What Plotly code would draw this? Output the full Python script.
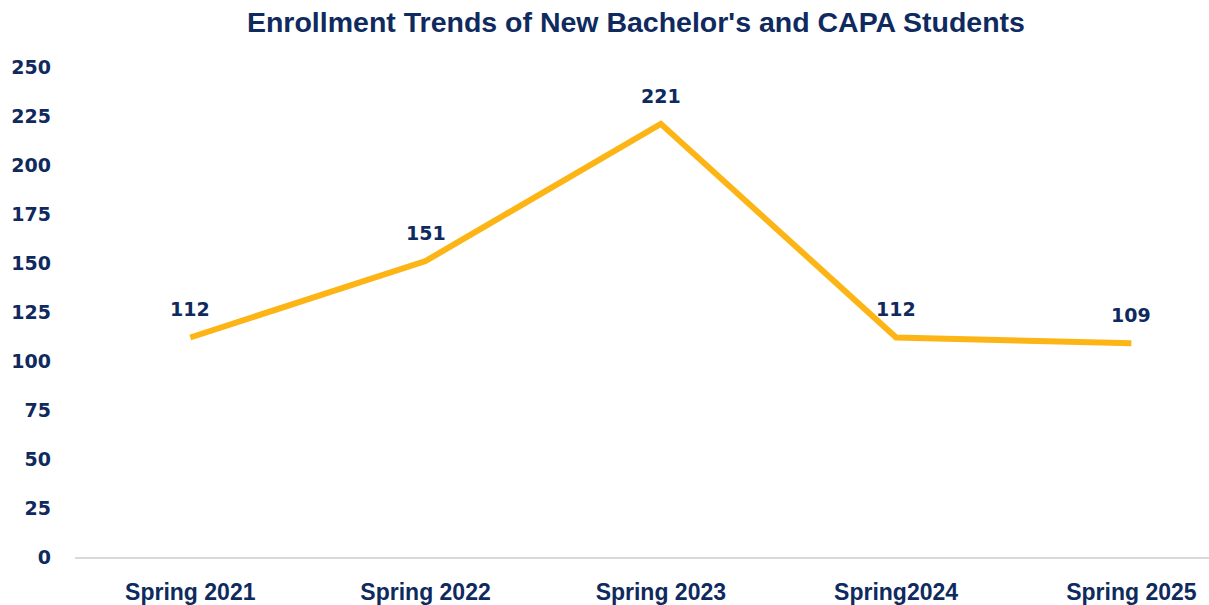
import plotly.graph_objects as go

categories = ["Spring 2021", "Spring 2022", "Spring 2023", "Spring2024", "Spring 2025"]
values = [112, 151, 221, 112, 109]
y_ticks = [0, 25, 50, 75, 100, 125, 150, 175, 200, 225, 250]

navy = "#0F2A5E"
gold = "#FDB515"

fig = go.Figure()
fig.add_trace(go.Scatter(
    x=categories, y=values, mode="lines",
    line=dict(color=gold, width=6),
    hoverinfo="skip", showlegend=False,
))
for c, v in zip(categories, values):
    fig.add_annotation(x=c, y=v, text=str(v), showarrow=False, yshift=28,
                       font=dict(family="DejaVu Sans", size=19, color=navy, weight="bold"))

fig.update_layout(
    width=1209, height=605,
    margin=dict(l=75, r=0, t=67, b=48, autoexpand=False),
    paper_bgcolor="white", plot_bgcolor="white",
    title=dict(text="Enrollment Trends of New Bachelor's and CAPA Students",
               x=0.526, xanchor="center", y=0.963, yanchor="middle",
               font=dict(family="Liberation Sans, Arial, sans-serif", size=28.5, color=navy, weight="bold")),
    xaxis=dict(type="category", range=[-0.49, 4.33], showgrid=False, zeroline=False,
               showline=True, linecolor="#D9D9D9", linewidth=1.5, automargin=False,
               ticks="", ticklabelstandoff=14,
               tickfont=dict(family="Liberation Sans, Arial, sans-serif", size=23, color=navy, weight="bold")),
    yaxis=dict(range=[0, 250], tickvals=y_ticks, showgrid=False, zeroline=False, automargin=False,
               showline=False, ticks="", ticklabelstandoff=23,
               tickfont=dict(family="DejaVu Sans", size=19, color=navy, weight="bold")),
)

fig.write_html("out.html", config={"displayModeBar": False},
               post_script="document.body.style.margin='0';document.body.style.overflow='hidden';")
